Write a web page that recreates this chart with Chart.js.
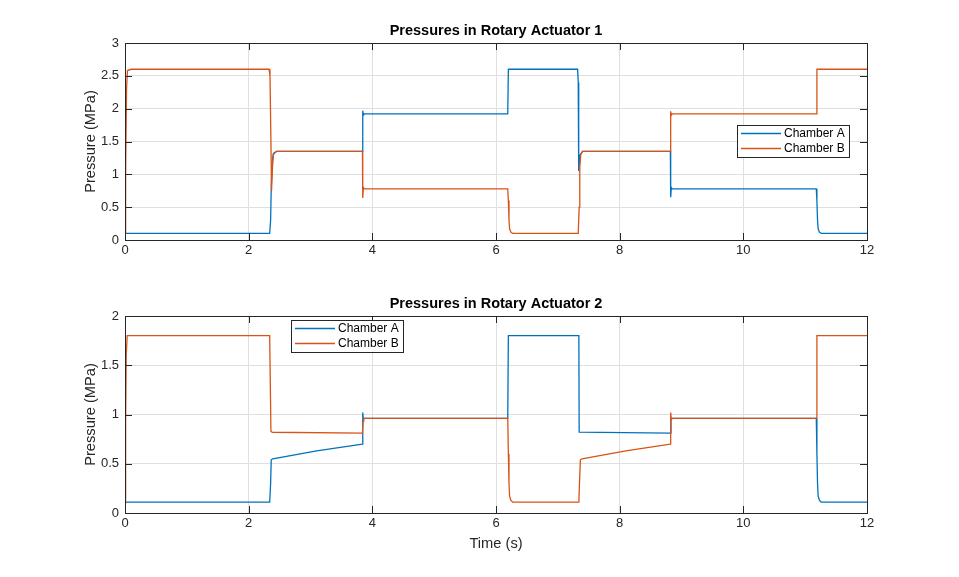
<!DOCTYPE html>
<html>
<head>
<meta charset="utf-8">
<script src="https://cdn.jsdelivr.net/npm/chart.js@4.4.1/dist/chart.umd.min.js"></script>
<style>
  body { margin: 0; background: #fff; }
  #wrap { position: relative; width: 959px; height: 577px; }
  canvas { position: absolute; left: 0; }
</style>
</head>
<body>
<div id="wrap">
  <canvas id="c1" width="959" height="290" style="top:0"></canvas>
  <canvas id="c2" width="959" height="287" style="top:290px"></canvas>
</div>
<script>
// --- Data (time s, pressure MPa) ---
const seriesNames = ['Chamber A', 'Chamber B'];
const xTicks = [0, 2, 4, 6, 8, 10, 12];
const yTicks1 = [0, 0.5, 1, 1.5, 2, 2.5, 3];
const yTicks2 = [0, 0.5, 1, 1.5, 2];

const act1A = [
  [0, 0.1], [2.34, 0.1], [2.355, 0.3], [2.365, 0.8], [2.38, 1.2], [2.40, 1.32], [2.45, 1.35],
  [3.84, 1.35], [3.845, 1.97], [3.855, 1.90], [3.87, 1.92],
  [6.19, 1.92], [6.20, 2.6],
  [7.32, 2.6], [7.33, 2.4], [7.335, 1.5], [7.34, 1.05], [7.36, 1.3], [7.40, 1.35],
  [8.82, 1.35], [8.825, 0.65], [8.835, 0.80], [8.85, 0.78],
  [11.18, 0.78], [11.19, 0.6], [11.20, 0.3], [11.21, 0.17], [11.23, 0.12], [11.26, 0.1], [12, 0.1]
];
const act1B = [
  [0, 0.1], [0.01, 1.0], [0.025, 2.3], [0.04, 2.58], [0.1, 2.6],
  [2.33, 2.6], [2.345, 2.5], [2.36, 1.5], [2.37, 0.75], [2.385, 1.1], [2.40, 1.3], [2.45, 1.35],
  [3.84, 1.35], [3.845, 0.64], [3.855, 0.80], [3.87, 0.78],
  [6.19, 0.78], [6.20, 0.6], [6.21, 0.3], [6.22, 0.17], [6.24, 0.12], [6.27, 0.1],
  [7.33, 0.1], [7.345, 0.5], [7.355, 1.1], [7.37, 1.3], [7.40, 1.35],
  [8.82, 1.35], [8.825, 1.96], [8.835, 1.90], [8.85, 1.92],
  [11.18, 1.92], [11.19, 2.6], [12, 2.6]
];
const act2A = [
  [0, 0.11], [2.34, 0.11], [2.355, 0.3], [2.365, 0.54], [2.39, 0.55], [3.10, 0.63], [3.84, 0.70],
  [3.845, 1.02], [3.855, 0.95], [3.87, 0.96],
  [6.19, 0.96], [6.20, 1.8],
  [7.34, 1.8], [7.345, 0.82], [8.82, 0.81], [8.83, 0.96],
  [11.18, 0.96], [11.19, 0.6], [11.20, 0.3], [11.21, 0.17], [11.23, 0.13], [11.26, 0.11], [12, 0.11]
];
const act2B = [
  [0, 0.1], [0.01, 0.9], [0.02, 1.6], [0.035, 1.8],
  [2.34, 1.8], [2.36, 0.83], [2.38, 0.82], [3.84, 0.81], [3.85, 0.93], [3.86, 0.96],
  [6.19, 0.96], [6.20, 0.6], [6.21, 0.3], [6.22, 0.17], [6.24, 0.13], [6.27, 0.11],
  [7.34, 0.11], [7.35, 0.3], [7.365, 0.54], [7.39, 0.55], [8.10, 0.63], [8.82, 0.70],
  [8.825, 1.02], [8.835, 0.95], [8.85, 0.96],
  [11.18, 0.96], [11.19, 1.8], [12, 1.8]
];

const colA = '#0072BD';
const colB = '#D95319';
const ink = '#262626';
const FONT = 'Liberation Sans, Arial, Helvetica, sans-serif';

// box, inward ticks and legend like matlab
const framePlugin = {
  id: 'frame',
  afterDatasetsDraw(chart) {
    const { ctx, chartArea: a, scales: { x, y } } = chart;
    const opts = chart.options.plugins.frame;
    ctx.save();
    ctx.strokeStyle = ink;
    ctx.lineWidth = 1;
    ctx.strokeRect(Math.round(a.left) + 0.5, Math.round(a.top) + 0.5, Math.round(a.right - a.left), Math.round(a.bottom - a.top));
    ctx.beginPath();
    x.ticks.forEach(t => {
      const px = Math.round(x.getPixelForValue(t.value)) + 0.5;
      ctx.moveTo(px, a.bottom); ctx.lineTo(px, a.bottom - 7);
      ctx.moveTo(px, a.top); ctx.lineTo(px, a.top + 7);
    });
    y.ticks.forEach(t => {
      const py = Math.round(y.getPixelForValue(t.value)) + 0.5;
      ctx.moveTo(a.left, py); ctx.lineTo(a.left + 7, py);
      ctx.moveTo(a.right, py); ctx.lineTo(a.right - 7, py);
    });
    ctx.stroke();

    // legend
    const L = opts.legend;
    ctx.fillStyle = '#fff';
    ctx.fillRect(L.x, L.y, L.w, L.h);
    ctx.strokeStyle = ink;
    ctx.strokeRect(L.x + 0.5, L.y + 0.5, L.w, L.h);
    ctx.font = '12px ' + FONT;
    ctx.textBaseline = 'middle';
    ctx.textAlign = 'left';
    [colA, colB].forEach((c, i) => {
      const ly = L.y + 8.5 + i * 15;
      ctx.strokeStyle = c;
      ctx.lineWidth = 1.3;
      ctx.beginPath();
      ctx.moveTo(L.x + 4, ly); ctx.lineTo(L.x + 44, ly);
      ctx.stroke();
      ctx.fillStyle = '#000';
      ctx.fillText(seriesNames[i], L.x + 47, ly);
    });
    ctx.restore();
  }
};

function toXY(arr) { return arr.map(p => ({ x: p[0], y: p[1] })); }

function makeChart(id, title, dataA, dataB, yTicks, o) {
  return new Chart(document.getElementById(id), {
    type: 'scatter',
    data: {
      datasets: [
        { label: seriesNames[0], data: toXY(dataA), borderColor: colA, order: 1 },
        { label: seriesNames[1], data: toXY(dataB), borderColor: colB, order: 0 }
      ]
    },
    options: {
      responsive: false,
      animation: false,
      showLine: true,
      elements: { point: { radius: 0 }, line: { borderWidth: 1.3, tension: 0 } },
      layout: { padding: { left: 80, right: 92, top: 0, bottom: o.padBottom } },
      plugins: {
        legend: { display: false },
        tooltip: { enabled: false },
        title: {
          display: true, text: title, color: '#000', fullSize: false,
          font: { family: FONT, size: 14.5, weight: 'bold' },
          padding: { top: o.titleTop, bottom: o.titleBottom }
        },
        frame: { legend: o.legend }
      },
      scales: {
        x: {
          type: 'linear', min: 0, max: 12,
          afterBuildTicks: s => { s.ticks = xTicks.map(v => ({ value: v })); },
          afterFit: s => { s.height = o.xHeight; },
          grid: { color: '#dfdfdf', drawTicks: false },
          border: { display: false },
          ticks: { color: ink, font: { family: FONT, size: 13 }, padding: 3, maxRotation: 0, callback: v => String(v) },
          title: { display: o.xTitle, text: 'Time (s)', color: ink, font: { family: FONT, size: 14.67 }, padding: { top: 0, bottom: 0 } }
        },
        y: {
          min: 0, max: yTicks[yTicks.length - 1],
          afterBuildTicks: s => { s.ticks = yTicks.map(v => ({ value: v })); },
          afterFit: s => { s.width = 45; },
          grid: { color: '#dfdfdf', drawTicks: false },
          border: { display: false },
          ticks: { color: ink, font: { family: FONT, size: 13 }, padding: 6, callback: v => String(v) },
          title: { display: true, text: 'Pressure (MPa)', color: ink, font: { family: FONT, size: 14.67 }, padding: { top: 2, bottom: 0 } }
        }
      }
    },
    plugins: [framePlugin]
  });
}

makeChart('c1', 'Pressures in Rotary Actuator 1', act1A, act1B, yTicks1, {
  titleTop: 22, titleBottom: 3.6, padBottom: 20, xHeight: 30, xTitle: false,
  legend: { x: 737, y: 125, w: 112, h: 32 }
});
makeChart('c2', 'Pressures in Rotary Actuator 2', act2A, act2B, yTicks2, {
  titleTop: 5, titleBottom: 3.6, padBottom: 24, xHeight: 40, xTitle: true,
  legend: { x: 291, y: 30, w: 112, h: 32 }
});
</script>
</body>
</html>
